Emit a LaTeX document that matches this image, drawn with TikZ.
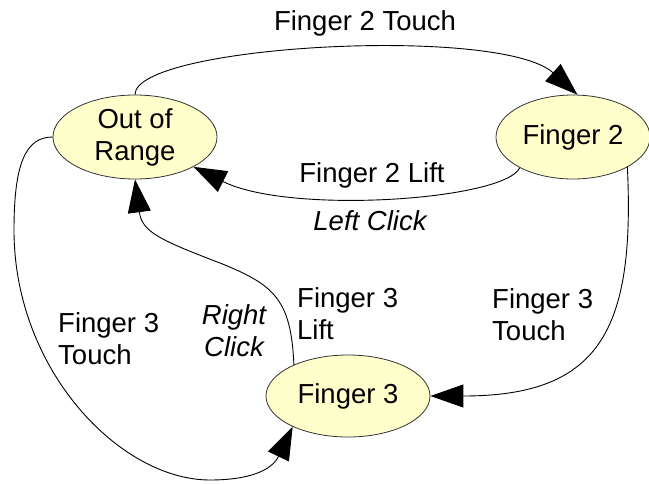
\documentclass[tikz,border=0pt]{standalone}
\usepackage{fontspec}
\setmainfont{Liberation Sans}
\usetikzlibrary{arrows.meta,shapes.geometric}
\definecolor{statefill}{HTML}{FFFFCC}
\definecolor{stateline}{HTML}{333333}
\tikzset{
  state/.style={ellipse, draw=stateline, line width=0.8pt, fill=statefill,
    inner sep=0pt, minimum height=84pt, align=center,
    font=\fontsize{27.5}{32}\selectfont},
  lbl/.style={inner sep=0pt, font=\fontsize{27.5}{32}\selectfont},
  trans/.style={line width=0.9pt, -{Triangle[length=33pt,width=23pt]}}
}
\begin{document}
\begin{tikzpicture}[x=1pt,y=-1pt]
\useasboundingbox (0,0) rectangle (649,485);

% states
\node[state, minimum width=164pt] (oor) at (135,137) {Out of\\Range};
\node[state, minimum width=154pt] (f2)  at (573,137) {Finger 2};
\node[state, minimum width=164pt, minimum height=82pt] (f3) at (348,396) {Finger 3};

% transitions
\draw[trans] (oor.north) .. controls (135,45) and (500,25) .. (f2.84);
\draw[trans] (f2.210) .. controls (505,200) and (290,215) .. (oor.-27);
\draw[trans] (f2.-29) .. controls (635,330) and (600,396) .. (f3.east);
\draw[trans] (f3.150) .. controls (291,300) and (275,285) .. (220,263)
                      .. controls (160,240) and (142,232) .. (oor.south);
\draw[trans] (oor.west) .. controls (25,137) and (14,165) .. (14,230)
                        .. controls (14,370) and (120,480) .. (210,480)
                        .. controls (250,480) and (272,470) .. (f3.-151);

% transition labels
\node[lbl, anchor=base] (l1) at (365,30) {Finger 2 Touch};
\node[lbl, anchor=base] (l2) at (372,182) {Finger 2 Lift};
\node[lbl, anchor=base] (l3) at (370,230) {\itshape Left Click};
\node[lbl, anchor=west, align=left] (l4) at (297,314) {Finger 3\\Lift};
\node[lbl, align=center] (l5) at (234,331) {\itshape Right\\\itshape Click};
\node[lbl, anchor=west, align=left] (l6) at (492,315) {Finger 3\\Touch};
\node[lbl, anchor=west, align=left] (l7) at (58,339) {Finger 3\\Touch};
\end{tikzpicture}
\end{document}
